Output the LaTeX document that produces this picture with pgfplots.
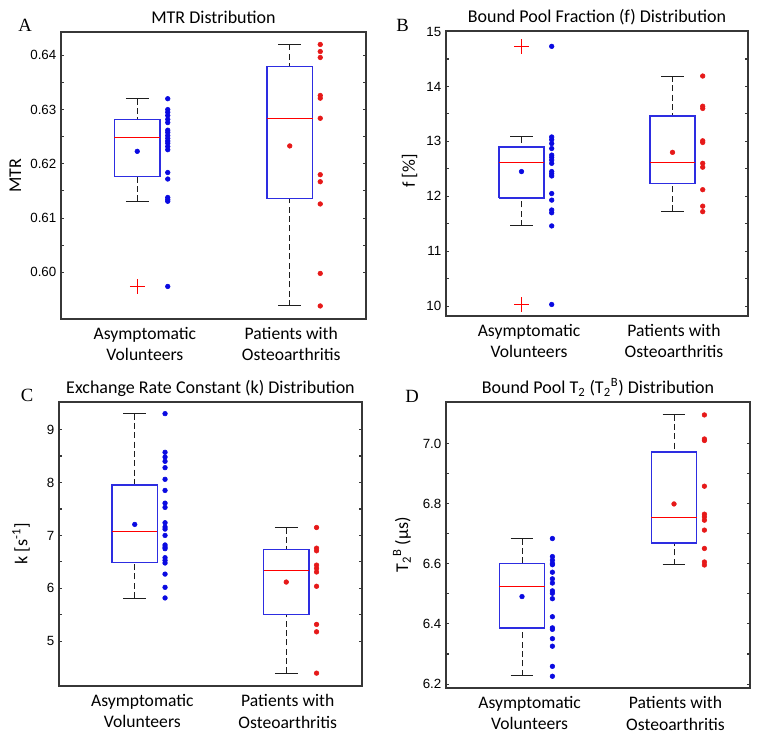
\documentclass[border=0pt]{standalone}
\usepackage{fontspec}
\setmainfont{Carlito}
\newfontfamily\arialfont{Liberation Sans}
\newfontfamily\letterfont{Liberation Serif}
\usepackage{pgfplots}
\pgfplotsset{compat=1.18}
\definecolor{bxblue}{RGB}{45,45,225}
\definecolor{dotblue}{RGB}{10,10,225}
\definecolor{dotred}{RGB}{230,25,25}
\definecolor{axgray}{RGB}{55,55,55}
\definecolor{whisk}{RGB}{30,30,30}

\pgfplotsset{
  panel/.style={
    scale only axis,
    anchor=south west,
    xmin=0.5, xmax=2.5,
    xtick={1.05,2.01},
    xticklabels={{Asymptomatic\\Volunteers},{Patients with\\Osteoarthritis}},
    x tick label style={align=center, font=\fontsize{13.2}{15.8}\selectfont, yshift=-3pt},
    major x tick style={draw=none},
    y tick label style={font=\arialfont\fontsize{10}{12}\selectfont},
    /pgf/number format/assume math mode=true,
    ytick pos=both,
    tick align=inside,
    major tick length=2.3pt,
    minor tick length=2.3pt,
    minor y tick num=1,
    axis line style={axgray, line width=0.9pt},
    every tick/.style={axgray, line width=0.8pt},
    ylabel style={font=\fontsize{13.5}{15}\selectfont},
    title style={font=\fontsize{13.5}{15}\selectfont, at={(0.5,1)}, anchor=base, yshift=0.5pt},
  },
  pts/.style={only marks, mark=*, mark size=1.75pt},
  outl/.style={only marks, mark=+, mark size=5.5pt, red, line width=0.7pt, mark options={solid}},
  whdash/.style={whisk, line width=0.75pt, dash pattern=on 4.5pt off 2.5pt},
  whcap/.style={whisk, line width=0.75pt},
}

% box at x=1: lower whisker, q1, median, q3, upper whisker
\newcommand{\boxA}[5]{%
  \addplot[whdash] coordinates {(1,#1) (1,#2)};
  \addplot[whdash] coordinates {(1,#5) (1,#4)};
  \addplot[whcap] coordinates {(0.925,#1) (1.075,#1)};
  \addplot[whcap] coordinates {(0.925,#5) (1.075,#5)};
  \addplot[bxblue, line width=1pt, line join=miter] coordinates {(0.85,#2) (1.15,#2) (1.15,#4) (0.85,#4) (0.85,#2)};
  \addplot[red, line width=0.8pt] coordinates {(0.85,#3) (1.15,#3)};
}
% box at x=2
\newcommand{\boxB}[5]{%
  \addplot[whdash] coordinates {(2,#1) (2,#2)};
  \addplot[whdash] coordinates {(2,#5) (2,#4)};
  \addplot[whcap] coordinates {(1.925,#1) (2.075,#1)};
  \addplot[whcap] coordinates {(1.925,#5) (2.075,#5)};
  \addplot[bxblue, line width=1pt, line join=miter] coordinates {(1.85,#2) (2.15,#2) (2.15,#4) (1.85,#4) (1.85,#2)};
  \addplot[red, line width=0.8pt] coordinates {(1.85,#3) (2.15,#3)};
}

\begin{document}
\begin{tikzpicture}
\useasboundingbox (0,0) rectangle (571.5pt,556.5pt);

% ---------------- A: MTR ----------------
\begin{axis}[panel, at={(45.75pt,317.25pt)}, width=228.75pt, height=215.25pt,
  ymin=0.5914, ymax=0.6443,
  ytick={0.60,0.61,0.62,0.63,0.64},
  yticklabel style={/pgf/number format/.cd, fixed, fixed zerofill, precision=2},
  ylabel={MTR},
  title={MTR Distribution}]
  \boxA{0.6131}{0.6177}{0.6249}{0.6282}{0.6320}
  \boxB{0.5938}{0.6136}{0.6284}{0.6379}{0.6420}
  \addplot[outl] coordinates {(1,0.5974)};
  \addplot[pts, dotblue] coordinates {(1,0.6223)};
  \addplot[pts, dotred] coordinates {(2,0.6233)};
  \addplot[pts, dotblue] coordinates {
    (1.2,0.6320) (1.2,0.6300) (1.2,0.6295) (1.2,0.6289) (1.2,0.6282)
    (1.2,0.6276) (1.2,0.6262) (1.2,0.6258) (1.2,0.6252) (1.2,0.6247)
    (1.2,0.6242) (1.2,0.6238) (1.2,0.6232) (1.2,0.6226) (1.2,0.6184)
    (1.2,0.6172) (1.2,0.6138) (1.2,0.6134) (1.2,0.6131) (1.2,0.5974)};
  \addplot[pts, dotred] coordinates {
    (2.2,0.6420) (2.2,0.6407) (2.2,0.6396) (2.2,0.6326) (2.2,0.6321)
    (2.2,0.6284) (2.2,0.6180) (2.2,0.6167) (2.2,0.6126) (2.2,0.5998)
    (2.2,0.5938)};
\end{axis}

% ---------------- B: f ----------------
\begin{axis}[panel, at={(334.5pt,319.5pt)}, width=226.5pt, height=213.75pt,
  ymin=9.82, ymax=15.01,
  ytick={10,11,12,13,14,15},
  ylabel={f [\%]},
  ylabel style={xshift=2pt},
  title={Bound Pool Fraction (f) Distribution}]
  \boxA{11.46}{11.97}{12.62}{12.90}{13.08}
  \boxB{11.73}{12.23}{12.62}{13.46}{14.19}
  \addplot[outl] coordinates {(1,14.73) (1,10.03)};
  \addplot[pts, dotblue] coordinates {(1,12.45)};
  \addplot[pts, dotred] coordinates {(2,12.80)};
  \addplot[pts, dotblue] coordinates {
    (1.2,14.73) (1.2,13.08) (1.2,13.03) (1.2,12.96) (1.2,12.87)
    (1.2,12.75) (1.2,12.71) (1.2,12.66) (1.2,12.60) (1.2,12.45)
    (1.2,12.41) (1.2,12.37) (1.2,12.05) (1.2,11.93) (1.2,11.75)
    (1.2,11.70) (1.2,11.46) (1.2,10.03)};
  \addplot[pts, dotred] coordinates {
    (2.2,14.19) (2.2,13.64) (2.2,13.60) (2.2,13.01) (2.2,12.98)
    (2.2,12.60) (2.2,12.53) (2.2,12.12) (2.2,11.82) (2.2,11.72)};
\end{axis}

% ---------------- C: k ----------------
\begin{axis}[panel, at={(44.25pt,42pt)}, width=227.25pt, height=213pt,
  ymin=4.157, ymax=9.52,
  ytick={5,6,7,8,9},
  ylabel={k [s\textsuperscript{-1}]},
  ylabel style={yshift=6pt},
  title={Exchange Rate Constant (k) Distribution}]
  \boxA{5.818}{6.484}{7.069}{7.950}{9.30}
  \boxB{4.396}{5.503}{6.346}{6.736}{7.145}
  \addplot[pts, dotblue] coordinates {(1,7.208)};
  \addplot[pts, dotred] coordinates {(2,6.12)};
  \addplot[pts, dotblue] coordinates {
    (1.2,9.30) (1.2,8.57) (1.2,8.48) (1.2,8.40) (1.2,8.28)
    (1.2,8.06) (1.2,7.85) (1.2,7.61) (1.2,7.53) (1.2,7.24)
    (1.2,7.16) (1.2,7.12) (1.2,7.00) (1.2,6.82) (1.2,6.78)
    (1.2,6.75) (1.2,6.58) (1.2,6.53) (1.2,6.48) (1.2,6.27)
    (1.2,6.02) (1.2,5.82)};
  \addplot[pts, dotred] coordinates {
    (2.2,7.15) (2.2,6.76) (2.2,6.71) (2.2,6.44) (2.2,6.38)
    (2.2,6.31) (2.2,6.04) (2.2,5.32) (2.2,5.18) (2.2,4.40)};
\end{axis}

% ---------------- D: T2B ----------------
\begin{axis}[panel, at={(334.5pt,40.5pt)}, width=228pt, height=214.5pt,
  ymin=6.187, ymax=7.138,
  ytick={6.2,6.4,6.6,6.8,7.0},
  yticklabel style={/pgf/number format/.cd, fixed, fixed zerofill, precision=1},
  ylabel={T\textsubscript{2}\textsuperscript{B} (µs)},
  ylabel style={yshift=2pt},
  title={Bound Pool T\textsubscript{2} (T\textsubscript{2}\textsuperscript{B}) Distribution}]
  \boxA{6.228}{6.386}{6.523}{6.600}{6.684}
  \boxB{6.597}{6.669}{6.753}{6.972}{7.096}
  \addplot[pts, dotblue] coordinates {(1,6.491)};
  \addplot[pts, dotred] coordinates {(2,6.799)};
  \addplot[pts, dotblue] coordinates {
    (1.2,6.684) (1.2,6.624) (1.2,6.612) (1.2,6.601) (1.2,6.597)
    (1.2,6.572) (1.2,6.550) (1.2,6.536) (1.2,6.510) (1.2,6.502)
    (1.2,6.484) (1.2,6.424) (1.2,6.387) (1.2,6.382) (1.2,6.351)
    (1.2,6.326) (1.2,6.259) (1.2,6.226)};
  \addplot[pts, dotred] coordinates {
    (2.2,7.095) (2.2,7.015) (2.2,7.010) (2.2,6.858) (2.2,6.765)
    (2.2,6.756) (2.2,6.745) (2.2,6.712) (2.2,6.651) (2.2,6.606)
    (2.2,6.596)};
\end{axis}

% panel letters
\node[font=\letterfont\fontsize{14}{16}\selectfont] at (18.75pt,537.75pt) {A};
\node[font=\letterfont\fontsize{14}{16}\selectfont] at (302pt,537.75pt) {B};
\node[font=\letterfont\fontsize{14}{16}\selectfont] at (20.25pt,260.25pt) {C};
\node[font=\letterfont\fontsize{14}{16}\selectfont] at (309pt,259pt) {D};
\end{tikzpicture}
\end{document}
